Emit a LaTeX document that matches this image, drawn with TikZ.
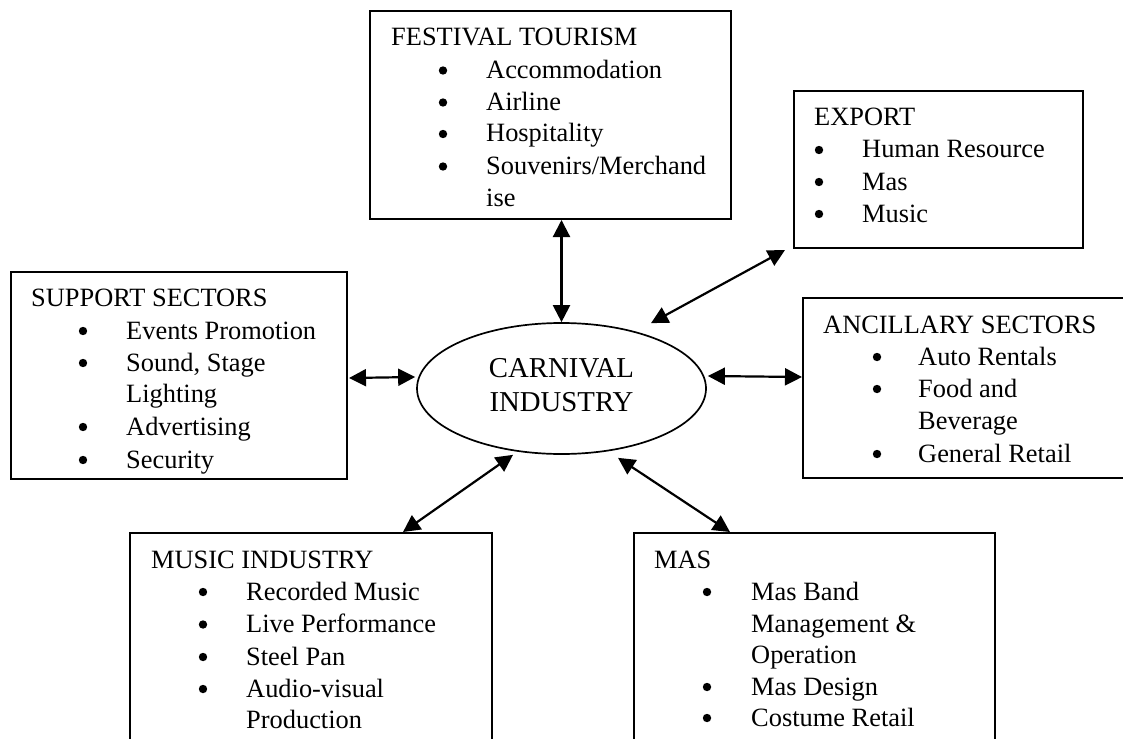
\documentclass[tikz,border=0pt]{standalone}
\usepackage{fontspec}
\setmainfont{Liberation Serif}
\usetikzlibrary{arrows.meta,shapes.geometric,calc}

\newcommand\boxfont{\fontsize{26.4pt}{32pt}\selectfont}
\newcommand\hubfont{\fontsize{28.8pt}{34pt}\selectfont}
% list marker: centre sits 8 units above the given baseline
\newcommand\bulletat[2]{\fill (#1,#2-8) circle[radius=4.2pt];}

\tikzset{
  panel/.style={draw, line width=2pt, rectangle, anchor=north west, inner sep=0pt},
  hub/.style={draw, line width=1.7pt, ellipse, inner sep=0pt},
  txt/.style={anchor=base west, inner sep=0pt, font=\boxfont},
  link/.style={line width=2.2pt,
    {Triangle[length=17pt,width=17pt]}-{Triangle[length=17pt,width=17pt]}},
}

\begin{document}
\begin{tikzpicture}[x=1pt,y=-1pt]
\useasboundingbox (0,0) rectangle (1123,738);
\fill[white] (0,0) rectangle (1123,738);
\clip (0,0) rectangle (1123,738);

% ---- boxes ----
\node[panel, minimum width=361pt, minimum height=208pt] (ft) at (369,10) {};
\node[panel, minimum width=289pt, minimum height=157pt] (ex) at (793,90) {};
\node[panel, minimum width=336pt, minimum height=207pt] (ss) at (10,271) {};
\node[panel, minimum width=340pt, minimum height=180pt] (an) at (802,297) {};
\node[panel, minimum width=362pt, minimum height=240pt] (mu) at (129,532) {};
\node[panel, minimum width=361pt, minimum height=240pt] (ma) at (633,532) {};

% ---- central ellipse ----
\node[hub, minimum width=289pt, minimum height=131pt] (ci) at (561.5,388.5) {};
\node[align=center, font=\hubfont, inner sep=0pt] (ci-t) at (561.5,385.5) {CARNIVAL\\INDUSTRY};

% ---- festival tourism ----
\node[txt] (ft-t) at (391,46) {FESTIVAL TOURISM};
\bulletat{443}{78.5}  \node[txt] (ft-1) at (486,78.5) {Accommodation};
\bulletat{443}{110.5} \node[txt] (ft-2) at (486,110.5) {Airline};
\bulletat{443}{142}   \node[txt] (ft-3) at (486,142) {Hospitality};
\bulletat{443}{174.5} \node[txt] (ft-4) at (486,174.5) {Souvenirs/Merchand};
\node[txt] (ft-5) at (486,206) {ise};

% ---- export ----
\node[txt] (ex-t) at (814,126) {EXPORT};
\bulletat{819}{158} \node[txt] (ex-1) at (862,158) {Human Resource};
\bulletat{819}{190} \node[txt] (ex-2) at (862,190) {Mas};
\bulletat{819}{222} \node[txt] (ex-3) at (862,222) {Music};

% ---- support sectors ----
\begin{scope}
\clip (10,271) rectangle (346,474);
\node[txt] (ss-t) at (31,306) {SUPPORT SECTORS};
\bulletat{83}{339} \node[txt] (ss-1) at (126,339) {Events Promotion};
\bulletat{83}{371} \node[txt] (ss-2) at (126,371) {Sound, Stage};
\node[txt] (ss-3) at (126,402) {Lighting};
\bulletat{83}{435} \node[txt] (ss-4) at (126,435) {Advertising};
\bulletat{83}{468} \node[txt] (ss-5) at (126,468) {Security};
\end{scope}

% ---- ancillary sectors ----
\node[txt] (an-t) at (823,333) {ANCILLARY SECTORS};
\bulletat{877}{365} \node[txt] (an-1) at (918,365) {Auto Rentals};
\bulletat{877}{397} \node[txt] (an-2) at (918,397) {Food and};
\node[txt] (an-3) at (918,429) {Beverage};
\bulletat{877}{462} \node[txt] (an-4) at (918,462) {General Retail};

% ---- music industry ----
\node[txt] (mu-t) at (151,568) {MUSIC INDUSTRY};
\bulletat{203}{600}   \node[txt] (mu-1) at (246,600) {Recorded Music};
\bulletat{203}{632.5} \node[txt] (mu-2) at (246,632.5) {Live Performance};
\bulletat{203}{665}   \node[txt] (mu-3) at (246,665) {Steel Pan};
\bulletat{203}{697}   \node[txt] (mu-4) at (246,697) {Audio-visual};
\node[txt] (mu-5) at (246,728) {Production};

% ---- mas ----
\node[txt] (ma-t) at (654,568) {MAS};
\bulletat{707}{600} \node[txt] (ma-1) at (751,600) {Mas Band};
\node[txt] (ma-2) at (751,632) {Management \&};
\node[txt] (ma-3) at (751,663) {Operation};
\bulletat{707}{695} \node[txt] (ma-4) at (751,695) {Mas Design};
\bulletat{707}{726} \node[txt] (ma-5) at (751,726) {Costume Retail};

% ---- two-way links ----
\draw[link] (ft.south -| ci.north) -- (ci.north);
\draw[link] ($(ex.south west)+(-8,1)$) -- ($(ci.north)+(89.5,1)$);
\draw[link] ($(ss.east)+(1,2.5)$) -- ($(ci.west)+(-1,-11.5)$);
\draw[link] ($(ci.east)+(1,-12.5)$) -- ($(an.west)+(0,-11)$);
\draw[link] ($(ci.south)+(-48.5,0)$) -- ($(mu.north west)+(274,0)$);
\draw[link] ($(ci.south)+(56.5,3)$) -- ($(ma.north west)+(97,0)$);
\end{tikzpicture}
\end{document}
